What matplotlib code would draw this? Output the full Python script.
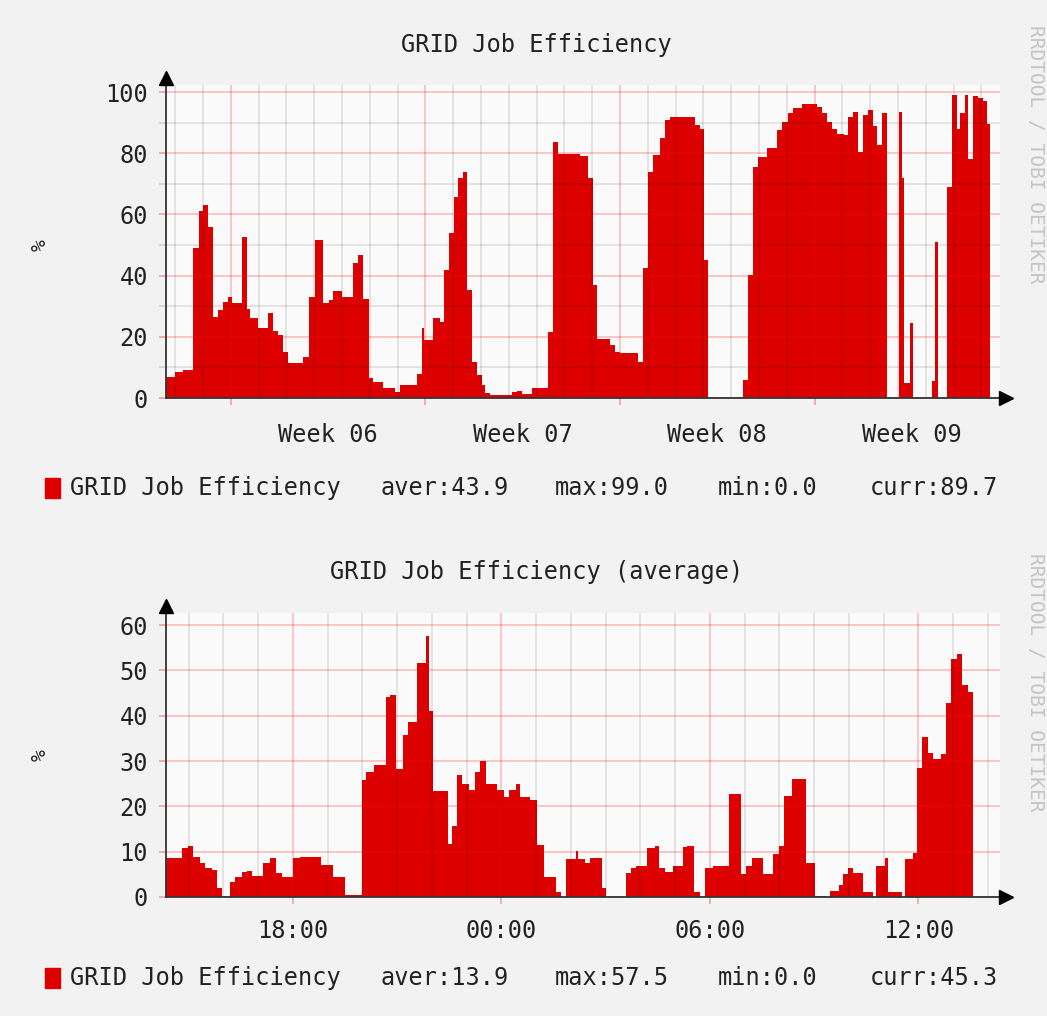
import matplotlib
matplotlib.use('Agg')
import matplotlib.pyplot as plt
from matplotlib.patches import Rectangle
import numpy as np

# ---------------- data ----------------
series_name = 'GRID Job Efficiency'

# Monthly graph: step edges in days since graph start, and values (%)
month_edges = [0.00, 0.32, 0.62, 0.98, 1.20, 1.34, 1.52, 1.68, 1.88, 2.06,
               2.22, 2.36, 2.72, 2.93, 3.03, 3.32, 3.68, 3.86, 4.04, 4.22,
               4.40, 4.94, 5.16, 5.36, 5.66, 5.87, 6.02, 6.32, 6.71, 6.92,
               7.10, 7.31, 7.46, 7.82, 8.24, 8.42, 9.02, 9.20, 9.28, 9.62,
               9.86, 10.00, 10.19, 10.36, 10.52, 10.67, 10.84, 11.02, 11.20, 11.35,
               11.47, 11.65, 12.43, 12.61, 12.79, 13.15, 13.75, 13.93, 14.11, 14.89,
               15.19, 15.37, 15.49, 15.97, 16.15, 16.33, 16.99, 17.17, 17.35, 17.53,
               17.77, 17.95, 18.13, 19.03, 19.21, 19.35, 19.51, 20.77, 20.95, 21.13,
               21.31, 21.61, 21.97, 22.15, 22.39, 22.57, 22.87, 23.41, 23.59, 23.77,
               23.95, 24.13, 24.40, 24.54, 24.72, 24.90, 25.08, 25.26, 25.44, 25.56,
               25.74, 25.94, 26.37, 26.48, 26.56, 26.76, 26.88, 27.57, 27.66, 27.78,
               28.10, 28.26, 28.44, 28.56, 28.74, 28.86, 29.04, 29.22, 29.40, 29.52,
               29.64]
month_values = [7, 8.6, 9.2, 49, 61, 63, 56, 26.6, 28.8, 31.5,
                33, 31, 52.7, 29, 26, 23, 27.7, 22, 20.6, 15,
                11.5, 13.5, 33, 51.6, 31, 32, 35, 33, 44, 46.7,
                32.5, 6.4, 5.3, 3.2, 2, 4.2, 8, 22.8, 19, 26,
                25, 41.8, 53.8, 65.8, 71.8, 74, 35.3, 11.9, 7.5, 4.2,
                1.7, 1, 2, 2.4, 1.3, 3.2, 21.7, 83.8, 79.7, 79,
                72, 37, 19.2, 17.3, 15, 14.6, 11.9, 42.4, 74, 79.4,
                84.9, 91, 92, 89.2, 88, 45, 0, 5.9, 40.2, 75.6,
                78.9, 81.6, 87.6, 90.3, 93, 94.7, 96, 95.2, 93, 90.3,
                88, 86.3, 86, 92, 93.6, 80.5, 92.5, 94, 89, 82.7,
                93, 0, 93.6, 72, 4.8, 24.6, 0, 5.4, 51, 0,
                69, 99, 88, 93, 99, 78, 98.7, 98, 97, 89.7]

# Daily graph: step edges in clock hours (24+ = next day), values (%)
day_edges = [14.35, 14.80, 14.99, 15.14, 15.33, 15.47, 15.66, 15.81, 15.95, 16.19,
             16.34, 16.53, 16.67, 16.82, 17.15, 17.34, 17.52, 17.68, 18.00, 18.21,
             18.80, 19.17, 19.50, 19.98, 20.11, 20.34, 20.68, 20.80, 20.96, 21.16,
             21.30, 21.56, 21.83, 21.93, 22.04, 22.47, 22.57, 22.73, 22.88, 23.07,
             23.24, 23.39, 23.56, 23.87, 24.08, 24.23, 24.42, 24.54, 24.82, 25.02,
             25.23, 25.57, 25.71, 25.86, 26.15, 26.22, 26.41, 26.55, 26.89, 27.01,
             27.59, 27.72, 27.88, 28.20, 28.42, 28.55, 28.71, 28.95, 29.24, 29.35,
             29.53, 29.72, 29.86, 30.10, 30.55, 30.89, 31.04, 31.20, 31.52, 31.81,
             32.00, 32.14, 32.35, 32.77, 33.03, 33.31, 33.46, 33.73, 33.84, 33.97,
             34.13, 34.42, 34.69, 34.78, 35.04, 35.14, 35.52, 35.62, 35.86, 35.97,
             36.10, 36.29, 36.43, 36.65, 36.79, 36.93, 37.10, 37.25, 37.44, 37.58]
day_values = [8.5, 10.7, 11.3, 8.9, 7.6, 6.5, 6, 1.9, 0, 3.2,
              4.5, 5.6, 5.8, 4.6, 7.6, 8.7, 5.2, 4.5, 8.5, 8.75,
              7, 4.5, 0.4, 25.8, 27.6, 29.1, 44.2, 44.6, 28.2, 35.7,
              38.5, 51.7, 57.5, 41, 23.4, 11.8, 15.7, 26.9, 25, 23.6,
              27.6, 30, 25, 23.6, 22.1, 23.6, 24.9, 22.1, 21.4, 11.5,
              4.5, 1.2, 0, 8.3, 10.2, 8.3, 7.6, 8.7, 1.9, 0,
              5.2, 6.5, 6.9, 10.7, 11.3, 6.3, 5.6, 6.9, 11.1, 11.3,
              1, 0, 6.3, 6.9, 22.7, 5.1, 6.9, 8.7, 5.1, 9.4,
              11.3, 22.3, 26, 7.6, 0.2, 0, 1.3, 2.6, 5.1, 6.3,
              5.2, 1.2, 0, 6.9, 8.7, 1.2, 0, 8.3, 9.6, 28.4,
              35.4, 31.7, 30.4, 31.5, 42.9, 52.4, 53.6, 46.8, 45.3]

week_lines = [2.33, 9.33, 16.33, 23.33]
week_labels = ['Week 06', 'Week 07', 'Week 08', 'Week 09']
hour_lines = [18, 24, 30, 36]
hour_labels = ['18:00', '00:00', '06:00', '12:00']
month_stats = ['aver:43.9', 'max:99.0', 'min:0.0', 'curr:89.7']
day_stats = ['aver:13.9', 'max:57.5', 'min:0.0', 'curr:45.3']
titles = ['GRID Job Efficiency', 'GRID Job Efficiency (average)']
watermark = 'RRDTOOL / TOBI OETIKER'

# ---------------- style ----------------
W, H = 1047, 1016
RED = '#dd0000'
BG = '#f2f2f2'
CANVAS = '#fafafa'
TXT = '#222222'
FONT = 'DejaVu Sans Mono'
FS = 17

plt.rcParams['font.family'] = FONT

def fx(px):
    return px / W

def fy(py):
    return 1 - py / H

fig = plt.figure(figsize=(W / 100, H / 100), dpi=100, facecolor=BG)


def style_axes(ax, ylim_top, ymajor, yminor, xmajor, xminor, plot_h_px):
    ax.set_facecolor(CANVAS)
    ax.set_ylim(0, ylim_top)
    ax.set_yticks(ymajor)
    ax.set_yticks(yminor, minor=True)
    ax.set_xticks(xmajor)
    ax.set_xticks(xminor, minor=True)
    ax.set_xticklabels([])
    ax.set_yticklabels([str(v) for v in ymajor], fontsize=FS, color=TXT, family=FONT)
    ax.set_axisbelow(False)
    ax.grid(which='major', color='#ff0000', alpha=0.25, lw=1.2)
    ax.grid(which='minor', color='#000000', alpha=0.11, lw=1.2)
    ax.tick_params(axis='y', which='major', direction='out', length=5, width=1.2,
                   color='#f0a0a0', pad=8)
    ax.tick_params(axis='y', which='minor', direction='out', length=5, width=1.2,
                   color='#d0d0d0')
    ax.tick_params(axis='x', which='major', direction='out', length=5, width=1.2,
                   color='#f0a0a0')
    ax.tick_params(axis='x', which='minor', length=0)
    for s in ['top', 'right']:
        ax.spines[s].set_visible(False)
    for s in ['left', 'bottom']:
        ax.spines[s].set_color('#333333')
        ax.spines[s].set_linewidth(1.3)
        ax.spines[s].set_zorder(5)
    # axis arrows
    ax.plot([0], [1 + 7 / plot_h_px], marker='^', ms=10, color='black',
            transform=ax.transAxes, clip_on=False, zorder=6)
    ax.plot([1 + 6 / 834], [0], marker='>', ms=10, color='black',
            transform=ax.transAxes, clip_on=False, zorder=6)


# ---- top (monthly) ----
ax1 = fig.add_axes([fx(166), fy(398), 834 / W, 313 / H])
ax1.set_xlim(0, 30)
ax1.stairs(month_values, month_edges, fill=True, color=RED, baseline=0, lw=0, zorder=1)
style_axes(ax1, 102.3, [0, 20, 40, 60, 80, 100], [10, 30, 50, 70, 90],
           week_lines, np.arange(0.33, 30, 1.0), 313)
for pos, lab in zip(week_lines, week_labels):
    ax1.text(pos + 3.5, -37 / 313, lab, transform=ax1.get_xaxis_transform(),
             ha='center', va='center', fontsize=FS, color=TXT)

# ---- bottom (daily) ----
ax2 = fig.add_axes([fx(166), fy(897), 834 / W, 284 / H])
ax2.set_xlim(14.35, 38.35)
ax2.stairs(day_values, day_edges, fill=True, color=RED, baseline=0, lw=0, zorder=1)
style_axes(ax2, 62.65, [0, 10, 20, 30, 40, 50, 60], [],
           hour_lines, np.arange(15, 39, 1.0), 284)
for pos, lab in zip(hour_lines, hour_labels):
    ax2.text(pos, -34 / 284, lab, transform=ax2.get_xaxis_transform(),
             ha='center', va='center', fontsize=FS, color=TXT)

# ---- titles, y labels, watermark ----
fig.text(fx(536), fy(45), titles[0], ha='center', va='center', fontsize=FS, color=TXT)
fig.text(fx(537), fy(572), titles[1], ha='center', va='center', fontsize=FS, color=TXT)
fig.text(fx(40), fy(245), '%', rotation=90, ha='center', va='center', fontsize=FS - 3, color=TXT)
fig.text(fx(40), fy(755), '%', rotation=90, ha='center', va='center', fontsize=FS - 3, color=TXT)
fig.text(fx(1035), fy(25), watermark, rotation=270, ha='center', va='top',
         fontsize=14, color='#c4c4c4')
fig.text(fx(1035), fy(553), watermark, rotation=270, ha='center', va='top',
         fontsize=14, color='#c4c4c4')

# ---- legends ----
stat_x = [380, 555, 718, 870]
for legend_y, stats in [(488, month_stats), (978, day_stats)]:
    fig.add_artist(Rectangle((fx(45), fy(legend_y + 10)), 15 / W, 20 / H,
                             transform=fig.transFigure, color=RED))
    fig.text(fx(70), fy(legend_y), series_name, ha='left', va='center', fontsize=FS, color=TXT)
    for xp, s in zip(stat_x, stats):
        fig.text(fx(xp), fy(legend_y), s, ha='left', va='center', fontsize=FS, color=TXT)

fig.savefig('out.png', dpi=100, facecolor=BG)
